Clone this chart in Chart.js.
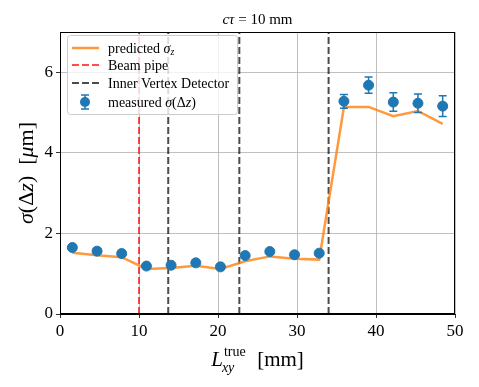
<!DOCTYPE html>
<html>
<head>
<meta charset="utf-8">
<script src="https://cdn.jsdelivr.net/npm/chart.js@4"></script>
<style>
  html, body { margin: 0; padding: 0; background: #fff; }
  #wrap { width: 479px; height: 387px; }
</style>
</head>
<body>
<div id="wrap"><canvas id="grafico" width="479" height="387"></canvas></div>
<script>
// dados
var xCentros = [1.56, 4.69, 7.81, 10.94, 14.06, 17.19, 20.31, 23.44, 26.56, 29.69, 32.81, 35.94, 39.06, 42.19, 45.31, 48.44];
var medido = [1.65, 1.56, 1.50, 1.19, 1.21, 1.27, 1.17, 1.45, 1.55, 1.47, 1.51, 5.28, 5.68, 5.26, 5.23, 5.16];
var medidoErro = [0.05, 0.05, 0.05, 0.05, 0.05, 0.05, 0.05, 0.05, 0.05, 0.05, 0.05, 0.17, 0.20, 0.23, 0.23, 0.26];
var previsto = [1.52, 1.46, 1.41, 1.12, 1.14, 1.20, 1.12, 1.31, 1.43, 1.37, 1.35, 5.14, 5.14, 4.91, 5.04, 4.72];
var tuboFeixe = [10.0];
var camadasIVD = [13.7, 22.7, 34.0];
var xTicks = [0, 10, 20, 30, 40, 50];
var yTicks = [0, 2, 4, 6];

var AZUL = '#1f77b4';
var LARANJA = 'rgba(255,127,14,0.8)';
var VERMELHO = 'rgba(255,0,0,0.7)';
var CINZA = 'rgba(0,0,0,0.7)';
var FONTE = '"Liberation Serif", "DejaVu Serif", serif';

function pontos(xs, ys) {
  return xs.map(function (x, i) { return { x: x, y: ys[i] }; });
}
function vertical(x) {
  return [{ x: x, y: 0 }, { x: x, y: 7 }];
}

var datasets = [
  { label: 'measured', data: pontos(xCentros, medido), backgroundColor: AZUL, borderColor: AZUL,
    pointRadius: 5, showLine: false },
  { label: 'predicted', data: pontos(xCentros, previsto), borderColor: LARANJA, borderWidth: 2.5,
    pointRadius: 0, showLine: true, fill: false }
];
tuboFeixe.forEach(function (x) {
  datasets.push({ label: 'Beam pipe', data: vertical(x), borderColor: VERMELHO, borderWidth: 2,
    borderDash: [7, 3], pointRadius: 0, showLine: true });
});
camadasIVD.forEach(function (x) {
  datasets.push({ label: 'Inner Vertex Detector', data: vertical(x), borderColor: CINZA, borderWidth: 2,
    borderDash: [7, 3], pointRadius: 0, showLine: true });
});

// texto com partes em itálico / índice
function fonte(seg, base) {
  var tam = seg.sub || seg.sup ? base * 0.7 : base;
  return (seg.it ? 'italic ' : '') + tam + 'px ' + FONTE;
}
function largura(ctx, segs, base) {
  var w = 0;
  segs.forEach(function (s) { ctx.font = fonte(s, base); w += ctx.measureText(s.t).width; });
  return w;
}
function desenhaRico(ctx, segs, x, y, base) {
  segs.forEach(function (s) {
    ctx.font = fonte(s, base);
    var dy = s.sub ? base * 0.25 : (s.sup ? -base * 0.4 : 0);
    ctx.fillText(s.t, x, y + dy);
    x += ctx.measureText(s.t).width;
  });
}

var extras = {
  id: 'extras',
  beforeDatasetDraw: function (chart, args) {
    if (args.index !== 0) return;
    var ctx = chart.ctx, xs = chart.scales.x, ys = chart.scales.y;
    ctx.save();
    ctx.strokeStyle = AZUL;
    ctx.lineWidth = 1.5;
    xCentros.forEach(function (x, i) {
      var px = xs.getPixelForValue(x);
      var y1 = ys.getPixelForValue(medido[i] - medidoErro[i]);
      var y2 = ys.getPixelForValue(medido[i] + medidoErro[i]);
      ctx.beginPath();
      ctx.moveTo(px, y1); ctx.lineTo(px, y2);
      ctx.moveTo(px - 4, y1); ctx.lineTo(px + 4, y1);
      ctx.moveTo(px - 4, y2); ctx.lineTo(px + 4, y2);
      ctx.stroke();
    });
    ctx.restore();
  },
  afterDraw: function (chart) {
    var ctx = chart.ctx, a = chart.chartArea;
    ctx.save();
    // moldura
    ctx.strokeStyle = '#000';
    ctx.lineWidth = 1;
    ctx.strokeRect(a.left + 0.5, a.top + 0.5, a.right - a.left - 1, a.bottom - a.top - 1);

    // legenda
    var lx = 67, ly = 35, lw = 170, lh = 79;
    ctx.beginPath();
    ctx.roundRect(lx + 0.5, ly + 0.5, lw, lh, 3);
    ctx.fillStyle = 'rgba(255,255,255,0.8)';
    ctx.fill();
    ctx.strokeStyle = '#cccccc';
    ctx.lineWidth = 1;
    ctx.stroke();

    var itens = [
      { y: 48, cor: LARANJA, traco: [], segs: [{ t: 'predicted ' }, { t: 'σ', it: true }, { t: 'z', it: true, sub: true }] },
      { y: 65, cor: VERMELHO, traco: [7, 3], segs: [{ t: 'Beam pipe' }] },
      { y: 83, cor: CINZA, traco: [7, 3], segs: [{ t: 'Inner Vertex Detector' }] },
      { y: 102, ponto: true, segs: [{ t: 'measured ' }, { t: 'σ', it: true }, { t: '(Δ' }, { t: 'z', it: true }, { t: ')' }] }
    ];
    ctx.textBaseline = 'middle';
    ctx.textAlign = 'left';
    itens.forEach(function (it) {
      if (it.ponto) {
        ctx.strokeStyle = AZUL; ctx.fillStyle = AZUL; ctx.lineWidth = 1.5;
        ctx.beginPath();
        ctx.moveTo(85, it.y - 7); ctx.lineTo(85, it.y + 7);
        ctx.moveTo(81, it.y - 7); ctx.lineTo(89, it.y - 7);
        ctx.moveTo(81, it.y + 7); ctx.lineTo(89, it.y + 7);
        ctx.stroke();
        ctx.beginPath(); ctx.arc(85, it.y, 5, 0, Math.PI * 2); ctx.fill();
      } else {
        ctx.strokeStyle = it.cor; ctx.lineWidth = it.traco.length ? 2 : 2.5;
        ctx.setLineDash(it.traco);
        ctx.beginPath(); ctx.moveTo(72, it.y); ctx.lineTo(99, it.y); ctx.stroke();
        ctx.setLineDash([]);
      }
      ctx.fillStyle = '#000';
      desenhaRico(ctx, it.segs, 108, it.y + 1, 14);
    });

    // título
    var tit = [{ t: 'cτ', it: true }, { t: ' = 10 mm' }];
    ctx.textBaseline = 'alphabetic';
    var cx = (a.left + a.right) / 2;
    desenhaRico(ctx, tit, cx - largura(ctx, tit, 15) / 2, 24, 15);

    // título eixo y
    var ty = [{ t: 'σ', it: true }, { t: '(Δ' }, { t: 'z', it: true }, { t: ')  [' }, { t: 'μ', it: true }, { t: 'm]' }];
    ctx.save();
    ctx.translate(27, (a.top + a.bottom) / 2);
    ctx.rotate(-Math.PI / 2);
    ctx.textBaseline = 'middle';
    desenhaRico(ctx, ty, -largura(ctx, ty, 22) / 2, 0, 22);
    ctx.restore();

    // título eixo x
    ctx.textBaseline = 'alphabetic';
    ctx.font = 'italic 21px ' + FONTE;
    var wL = ctx.measureText('L').width;
    ctx.font = '14px ' + FONTE;
    var wSup = ctx.measureText('true').width;
    ctx.font = '21px ' + FONTE;
    var wRest = ctx.measureText('  [mm]').width;
    var x0 = cx - (wL + wSup + 2 + wRest) / 2, base = 366;
    ctx.font = 'italic 21px ' + FONTE;
    ctx.fillText('L', x0, base);
    ctx.font = '14px ' + FONTE;
    ctx.fillText('true', x0 + wL + 1, base - 10);
    ctx.font = 'italic 14px ' + FONTE;
    ctx.fillText('xy', x0 + wL - 1, base + 6);
    ctx.font = '21px ' + FONTE;
    ctx.fillText('  [mm]', x0 + wL + wSup + 2, base);
    ctx.restore();
  }
};

var ctx = grafico.getContext('2d');
var grafico1 = new Chart(ctx, {
  type: 'scatter',
  data: { datasets: datasets },
  options: {
    responsive: false,
    animation: false,
    layout: { padding: { top: 32, right: 24, left: 0, bottom: 0 } },
    plugins: { legend: { display: false }, tooltip: { enabled: false } },
    scales: {
      x: {
        type: 'linear', min: 0, max: 50,
        afterBuildTicks: function (s) { s.ticks = xTicks.map(function (v) { return { value: v }; }); },
        afterFit: function (s) { s.height = 73; },
        ticks: { color: '#000', font: { family: FONTE, size: 17 }, padding: 3, maxRotation: 0 },
        grid: { color: '#b0b0b0', lineWidth: 0.8, tickColor: '#000', tickLength: 4 },
        border: { color: '#000', width: 1 }
      },
      y: {
        type: 'linear', min: 0, max: 7,
        afterBuildTicks: function (s) { s.ticks = yTicks.map(function (v) { return { value: v }; }); },
        afterFit: function (s) { s.width = 60; },
        ticks: { color: '#000', font: { family: FONTE, size: 17 }, padding: 3 },
        grid: { color: '#b0b0b0', lineWidth: 0.8, tickColor: '#000', tickLength: 4 },
        border: { color: '#000', width: 1 }
      }
    }
  },
  plugins: [extras]
});
</script>
</body>
</html>
